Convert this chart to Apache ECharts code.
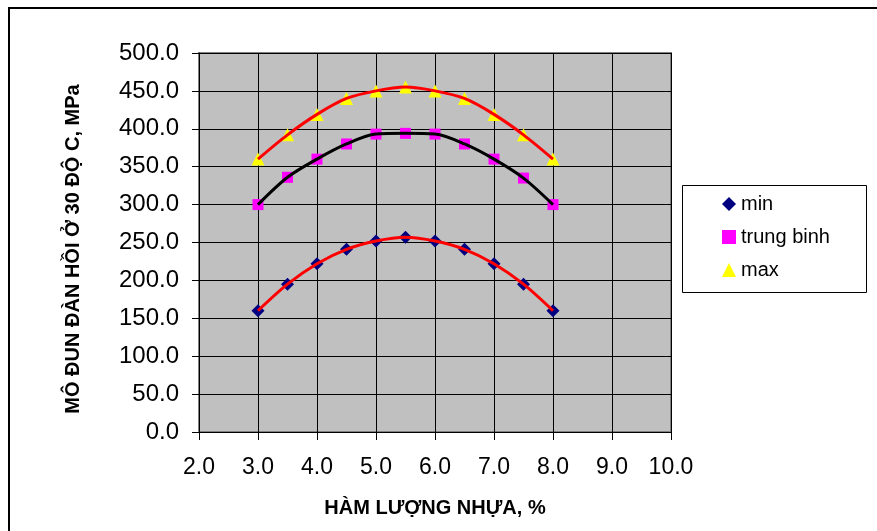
<!DOCTYPE html>
<html>
<head>
<meta charset="utf-8">
<script src="https://cdn.jsdelivr.net/npm/echarts@6/dist/echarts.min.js"></script>
<style>
html,body{margin:0;padding:0;background:#fff;}
#c{width:877px;height:531px;}
</style>
</head>
<body>
<div id="c"></div>
<script>
var xValues = [3.0, 3.5, 4.0, 4.5, 5.0, 5.5, 6.0, 6.5, 7.0, 7.5, 8.0];
var minValues = [160, 195, 222, 241, 252, 257, 252, 241, 222, 195, 160];
var avgValues = [300, 336, 360, 380, 393, 394, 393, 380, 360, 335, 300];
var maxValues = [360, 392, 419, 440, 450, 455, 450, 440, 419, 392, 360];
var seriesNames = ['min', 'trung binh', 'max'];
var xTitle = 'HÀM LƯỢNG NHỰA, %';
var yTitle = 'MÔ ĐUN ĐÀN HỒI Ở 30 ĐỘ C, MPa';

function pairs(ys){ return xValues.map(function(x,i){ return [x, ys[i]]; }); }

var FONT = '"Liberation Sans", Arial, sans-serif';
var chart = echarts.init(document.getElementById('c'), null, {renderer:'canvas'});
chart.setOption({
  animation: false,
  backgroundColor: '#fff',
  grid: {left: 199, top: 53, right: 206, bottom: 99, show: true, backgroundColor: '#C0C0C0', borderColor: '#808080', borderWidth: 2},
  xAxis: {
    type: 'value', min: 2, max: 10, interval: 1,
    axisLine: {show: true, onZero: false, lineStyle: {color: '#000', width: 1}},
    axisTick: {show: true, inside: false, length: 8, lineStyle: {color: '#000'}},
    axisLabel: {color: '#000', fontFamily: FONT, fontSize: 23, margin: 24, formatter: function(v){ return v.toFixed(1); }},
    splitLine: {show: true, lineStyle: {color: '#000', width: 1}}
  },
  yAxis: {
    type: 'value', min: 0, max: 500, interval: 50,
    axisLine: {show: true, lineStyle: {color: '#000', width: 1}},
    axisTick: {show: true, inside: false, length: 7, lineStyle: {color: '#000'}},
    axisLabel: {color: '#000', fontFamily: FONT, fontSize: 24, margin: 20, formatter: function(v){ return v.toFixed(1); }},
    splitLine: {show: true, lineStyle: {color: '#000', width: 1}}
  },
  legend: {
    data: [
      {name: seriesNames[0], icon: 'diamond', itemStyle: {color: '#000080', opacity: 1}},
      {name: seriesNames[1], icon: 'rect', itemStyle: {color: '#FF00FF', opacity: 1}},
      {name: seriesNames[2], icon: 'triangle', itemStyle: {color: '#FFFF00', opacity: 1}}
    ],
    orient: 'vertical', left: 722, top: 194, padding: 0,
    itemWidth: 14, itemHeight: 14, itemGap: 13,
    textStyle: {color: '#000', fontFamily: FONT, fontSize: 20}
  },
  graphic: [
    {type: 'rect', shape: {x: 9, y: 8, width: 880, height: 540}, style: {fill: 'none', stroke: '#000', lineWidth: 2}, z: 0, silent: true},
    {type: 'rect', shape: {x: 682.5, y: 185.5, width: 184, height: 107}, style: {fill: '#fff', stroke: '#000', lineWidth: 1}, z: -1, silent: true},
    {type: 'text', x: 435, y: 508, style: {text: xTitle, fill: '#000', font: 'bold 20px ' + FONT, align: 'center', verticalAlign: 'middle'}},
    {type: 'text', x: 73, y: 249, rotation: Math.PI/2, style: {text: yTitle, fill: '#000', font: 'bold 20px ' + FONT, align: 'center', verticalAlign: 'middle'}}
  ],
  series: [
    {name: 'min', type: 'scatter', data: pairs(minValues), symbol: 'diamond', symbolSize: 13, itemStyle: {color: '#000080', opacity: 1}, z: 2},
    {name: 'trung binh', type: 'scatter', data: pairs(avgValues), symbol: 'rect', symbolSize: 11, itemStyle: {color: '#FF00FF', opacity: 1}, z: 2},
    {name: 'max', type: 'scatter', data: pairs(maxValues), symbol: 'triangle', symbolSize: 13, itemStyle: {color: '#FFFF00', opacity: 1}, z: 2},
    {name: 'trend min', type: 'line', data: pairs(minValues), smooth: 0.3, showSymbol: false, symbol: 'none', lineStyle: {color: '#FF0000', width: 3}, z: 3},
    {name: 'trend trung binh', type: 'line', data: pairs(avgValues), smooth: 0.3, showSymbol: false, symbol: 'none', lineStyle: {color: '#000000', width: 3}, z: 3},
    {name: 'trend max', type: 'line', data: pairs(maxValues), smooth: 0.3, showSymbol: false, symbol: 'none', lineStyle: {color: '#FF0000', width: 3}, z: 3}
  ]
});
</script>
</body>
</html>
